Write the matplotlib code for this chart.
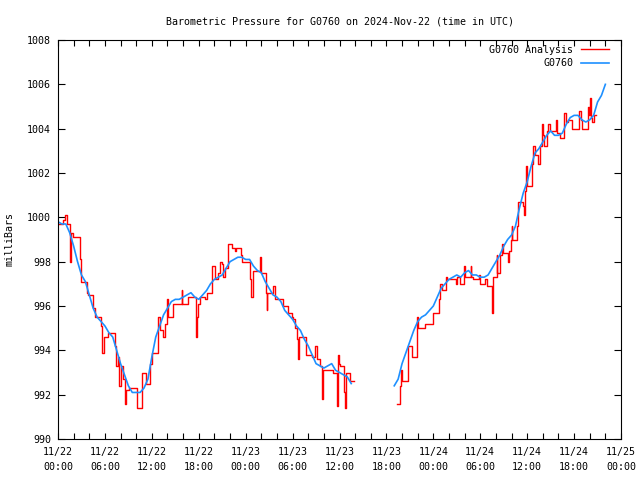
import matplotlib
matplotlib.use("Agg")
import matplotlib.pyplot as plt
import matplotlib.dates as mdates
import numpy as np
import pandas as pd

start = pd.Timestamp("2024-11-22 00:00")

# G0760 observations, every 30 minutes (hours since 11/22 00:00)
obs1_start = 0.0
obs1 = [999.8, 999.7, 999.7, 999.3, 998.7, 998.0, 997.4, 997.1, 996.5, 995.9,
        995.5, 995.3, 995.1, 994.8, 994.6, 994.0, 993.4, 992.9, 992.4, 992.1,
        992.1, 992.1, 992.3, 992.7, 993.7, 994.6, 995.1, 995.6, 995.9, 996.2,
        996.3, 996.3, 996.4, 996.5, 996.6, 996.4, 996.3, 996.5, 996.7, 997.0,
        997.2, 997.3, 997.4, 997.7, 998.0, 998.1, 998.2, 998.2, 998.1, 998.1,
        997.8, 997.6, 997.5, 997.1, 996.8, 996.5, 996.4, 996.2, 995.8, 995.6,
        995.4, 995.1, 994.9, 994.5, 994.2, 993.8, 993.4, 993.3, 993.2, 993.3,
        993.4, 993.1, 993.0, 992.9, 992.8, 992.5]
obs2_start = 43.0
obs2 = [992.4, 992.7, 993.4, 993.9, 994.4, 994.9, 995.3, 995.5, 995.6, 995.8,
        996.0, 996.4, 996.8, 997.0, 997.2, 997.3, 997.4, 997.3, 997.5, 997.6,
        997.4, 997.4, 997.3, 997.3, 997.4, 997.7, 998.0, 998.3, 998.7, 999.0,
        999.2, 999.6, 1000.4, 1001.1, 1001.6, 1002.3, 1002.9, 1003.1, 1003.4, 1003.7,
        1003.9, 1003.7, 1003.7, 1003.8, 1004.2, 1004.5, 1004.6, 1004.6, 1004.4, 1004.3,
        1004.4, 1004.6, 1005.2, 1005.5, 1006.0]

# G0760 Analysis (step changes, hours since 11/22 00:00); nan marks the data gap
ana_hours = [0.0, 0.64, 0.86, 1.15, 1.53, 1.66, 1.92, 2.81, 2.94, 3.71,
             3.84, 4.48, 4.73, 5.50, 5.69, 5.88, 6.39, 7.29, 7.48, 7.67,
             7.80, 8.06, 8.31, 8.57, 8.76, 9.08, 10.10, 10.74, 11.25, 11.76,
             12.02, 12.79, 13.04, 13.43, 13.68, 13.90, 14.03, 14.71, 15.82, 15.90,
             16.66, 17.65, 17.74, 17.94, 18.16, 18.80, 19.02, 19.65, 19.73, 20.08,
             20.50, 20.72, 21.01, 21.14, 21.36, 21.70, 22.29, 22.63, 22.72, 23.40,
             23.57, 24.55, 24.68, 24.90, 25.83, 25.96, 26.47, 26.60, 26.69, 26.79,
             27.53, 27.75, 28.81, 29.45, 29.88, 30.09, 30.31, 30.52, 30.65, 30.86,
             31.71, 32.44, 32.86, 33.08, 33.50, 33.72, 33.78, 33.93, 35.20, 35.64,
             35.72, 35.84, 35.97, 36.06, 36.61, 36.70, 36.83, 37.34, 37.76,
             37.80,
             43.31, 43.73, 43.82, 43.95, 44.72, 44.80, 45.23, 45.87, 46.00, 46.93,
             47.92, 48.00, 48.76, 48.85, 49.07, 49.62, 49.78, 50.90, 50.98, 51.41,
             51.92, 52.05, 52.77, 52.88, 53.11, 53.88, 53.96, 54.60, 54.82, 55.46,
             55.54, 55.67, 56.10, 56.20, 56.52, 56.74, 56.94, 57.58, 57.67, 57.93,
             58.02, 58.12, 58.66, 58.79, 59.50, 59.63, 59.72, 59.85, 59.97, 60.65,
             60.71, 60.99, 61.42, 61.64, 61.85, 62.06, 62.19, 62.49, 62.70, 62.92,
             63.68, 63.77, 64.19, 64.74, 64.92, 65.26, 65.77, 66.66, 66.88, 67.04,
             67.74, 67.90, 68.03, 68.16, 68.25, 68.58, 68.76]
ana_values = [999.7, 999.9, 1000.1, 999.7, 998.0, 999.3, 999.1, 998.1, 997.1, 996.6,
              996.5, 995.9, 995.5, 995.1, 993.9, 994.6, 994.8, 994.2, 993.3, 993.7,
              992.4, 993.3, 992.7, 991.6, 992.2, 992.3, 991.4, 993.0, 992.5, 993.4,
              993.9, 995.5, 994.9, 994.6, 995.2, 996.3, 995.5, 996.1, 996.7, 996.1,
              996.4, 994.6, 995.5, 996.1, 996.4, 996.3, 996.6, 996.7, 997.8, 997.2,
              997.5, 998.0, 997.9, 997.3, 997.7, 998.8, 998.6, 998.5, 998.6, 998.3,
              998.0, 997.2, 996.4, 997.6, 998.2, 997.5, 997.5, 996.6, 995.8, 996.6,
              996.9, 996.3, 996.0, 995.7, 995.5, 995.4, 995.0, 994.5, 993.6, 994.6,
              993.8, 993.7, 994.2, 993.6, 993.3, 992.5, 991.8, 993.1, 993.0, 992.4,
              991.5, 993.8, 993.4, 993.3, 992.1, 991.4, 993.0, 992.6, 992.6,
              np.nan,
              991.6, 992.4, 993.1, 992.6, 993.4, 994.2, 993.7, 995.5, 995.0, 995.2,
              995.6, 995.7, 996.3, 997.0, 996.7, 997.3, 997.2, 997.0, 997.3, 997.0,
              997.8, 997.3, 997.8, 997.3, 997.2, 997.4, 997.0, 997.2, 996.9, 996.6,
              995.7, 997.3, 998.3, 997.5, 998.3, 998.8, 998.4, 998.0, 998.5, 999.0,
              999.6, 999.0, 999.6, 1000.7, 1000.5, 1000.1, 1001.2, 1002.3, 1001.4, 1002.4,
              1003.2, 1002.8, 1002.4, 1003.2, 1004.2, 1003.7, 1003.2, 1003.9, 1004.2, 1003.9,
              1004.4, 1003.8, 1003.6, 1004.7, 1004.3, 1004.4, 1004.0, 1004.8, 1004.4, 1004.0,
              1005.0, 1004.6, 1005.4, 1004.5, 1004.3, 1004.6, 1004.6]

t_obs1 = start + pd.to_timedelta(obs1_start + 0.5 * np.arange(len(obs1)), unit="h")
t_obs2 = start + pd.to_timedelta(obs2_start + 0.5 * np.arange(len(obs2)), unit="h")
t_ana = start + pd.to_timedelta(ana_hours, unit="h")

plt.rcParams["font.family"] = "DejaVu Sans Mono"
plt.rcParams["font.size"] = 7.2

fig = plt.figure(figsize=(6.4, 4.8), dpi=100)
ax = fig.add_axes([58 / 640, 1 - 439 / 480, 563 / 640, 399 / 480])

ax.plot(t_ana, ana_values, color="#ff0000", lw=1.0, drawstyle="steps-post",
        label="G0760 Analysis")
ax.plot(t_obs1, obs1, color="#1e90ff", lw=1.2, label="G0760")
ax.plot(t_obs2, obs2, color="#1e90ff", lw=1.2)

ax.set_xlim(start, start + pd.Timedelta(days=3))
ax.set_ylim(990, 1008)
ax.set_yticks(np.arange(990, 1009, 2))
ax.xaxis.set_major_locator(mdates.HourLocator(byhour=[0, 6, 12, 18]))
ax.xaxis.set_minor_locator(mdates.HourLocator(byhour=range(0, 24, 2)))
ax.xaxis.set_major_formatter(mdates.DateFormatter("%m/%d\n%H:%M"))
ax.tick_params(which="both", direction="in", top=True, right=True, width=0.8)
ax.tick_params(axis="x", which="both", length=4)
ax.tick_params(axis="y", which="major", length=5, pad=5)
ax.tick_params(axis="x", which="major", pad=6)
for lbl in ax.get_xticklabels():
    lbl.set_linespacing(1.6)
for s in ax.spines.values():
    s.set_linewidth(0.8)

ax.set_ylabel("milliBars", labelpad=9)
ax.set_title("Barometric Pressure for G0760 on 2024-Nov-22 (time in UTC)",
             fontsize=7.2, pad=11.5)
ax.legend(loc="upper right", bbox_to_anchor=(0.9787, 0.9875), frameon=False,
          markerfirst=False, handlelength=2.8, borderpad=0, borderaxespad=0,
          labelspacing=0.35, handletextpad=0.8, fontsize=7.2)

fig.savefig("out.png", dpi=100)
